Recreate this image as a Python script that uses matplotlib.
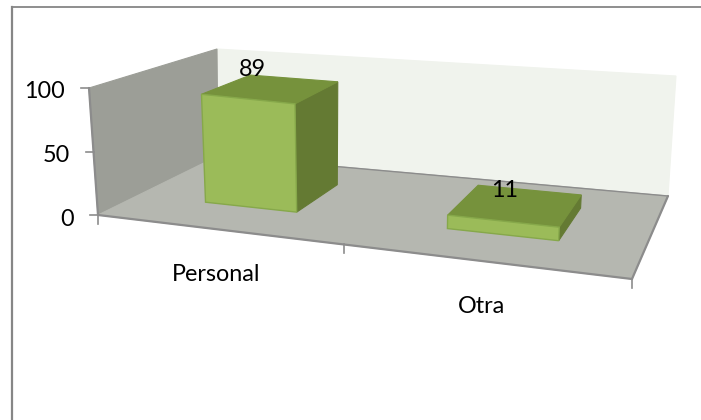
"""3D-look column chart drawn on a flat pixel canvas."""
import numpy as np
import matplotlib
matplotlib.use("Agg")
import matplotlib.pyplot as plt
from matplotlib.patches import Polygon

categories = ["Personal", "Otra"]
values = [89, 11]
y_ticks = [0, 50, 100]
y_max = 100

W, H = 701, 420
FONT = "Lato"
FS = 16.8

# floor corners in pixels: front-left, front-right, back-right, back-left
FLOOR = np.array([[98, 215], [632, 279], [668, 196], [218, 156]], float)
# pixel vector for the full 0-100 height at the same corners
RISE = np.array([[-9, -127], [6, -124], [8, -120], [-1, -107]], float)

BAR_W = 0.2
BAR_SHIFT = 0.0065
BAR_D0, BAR_D1 = 0.30, 0.72
CAT_TICKS = [0, 0.513, 1]
# pixel offset of each value label from the middle of its bar top
LABEL_OFFSETS = [(-19, -19), (-11, -14)]


def floor_h():
    (x0, y0), (x1, y1), (x2, y2), (x3, y3) = FLOOR
    sx, sy = x0 - x1 + x2 - x3, y0 - y1 + y2 - y3
    dx1, dx2, dy1, dy2 = x1 - x2, x3 - x2, y1 - y2, y3 - y2
    det = dx1 * dy2 - dx2 * dy1
    g = (sx * dy2 - dx2 * sy) / det
    h = (dx1 * sy - sx * dy1) / det
    return np.array([[x1 - x0 + g * x1, x3 - x0 + h * x3, x0],
                     [y1 - y0 + g * y1, y3 - y0 + h * y3, y0],
                     [g, h, 1]])


HOM = floor_h()


def proj(u, d, v=0):
    p = HOM @ np.array([u, d, 1.0])
    base = p[:2] / p[2]
    rise = ((1 - u) * (1 - d) * RISE[0] + u * (1 - d) * RISE[1]
            + u * d * RISE[2] + (1 - u) * d * RISE[3])
    return base + rise * v / y_max


def face(ax, pts, color, edge=None, lw=0.8, z=2):
    ax.add_patch(Polygon(pts, closed=True, facecolor=color,
                         edgecolor=edge if edge else color, linewidth=lw, zorder=z))


fig = plt.figure(figsize=(W / 100, H / 100), dpi=100)
ax = fig.add_axes([0, 0, 1, 1])
ax.set_xlim(0, W)
ax.set_ylim(H, 0)
ax.axis("off")

# outer frame, only left and top are inside the crop
ax.plot([12, 12], [H, 6.5], color="#868686", lw=1.6, zorder=0.5)
ax.plot([12, W], [6.5, 6.5], color="#868686", lw=1.3, zorder=0.5)

# walls and floor
face(ax, [proj(0, 1), proj(1, 1), proj(1, 1, y_max), proj(0, 1, y_max)], "#f0f3ed", z=1)
face(ax, [proj(0, 0), proj(0, 1), proj(0, 1, y_max), proj(0, 0, y_max)], "#9c9e97", z=1)
face(ax, [proj(0, 0), proj(1, 0), proj(1, 1), proj(0, 1)], "#b5b7b0", z=1.5)

# axis lines
AXC = "#8c8c8c"
for a, b, lw in [(proj(0, 0), proj(1, 0), 1.6), (proj(1, 0), proj(1, 1), 1.6),
                 (proj(0, 1), proj(1, 1), 1.0), (proj(0, 0), proj(0, 0, y_max), 1.6)]:
    ax.plot([a[0], b[0]], [a[1], b[1]], color=AXC, lw=lw, zorder=1.8, solid_capstyle="round")

for t in y_ticks:
    p = proj(0, 0, t)
    ax.plot([p[0] - 8, p[0]], [p[1], p[1]], color=AXC, lw=1.2, zorder=1.8)
    ax.text(p[0] - 24, p[1] + 4, str(t), ha="right", va="center",
            fontsize=FS, family=FONT, color="black")

for u in CAT_TICKS:
    p = proj(u, 0)
    ax.plot([p[0], p[0]], [p[1], p[1] + 9], color=AXC, lw=1.2, zorder=1.8)

# bars
for i, (name, val) in enumerate(zip(categories, values)):
    uc = (i + 0.5) / len(categories) + BAR_SHIFT
    u0, u1 = uc - BAR_W / 2, uc + BAR_W / 2
    d0, d1 = BAR_D0, BAR_D1
    face(ax, [proj(u1, d0), proj(u1, d1), proj(u1, d1, val), proj(u1, d0, val)], "#647a33", z=3)
    face(ax, [proj(u0, d0, val), proj(u1, d0, val), proj(u1, d1, val), proj(u0, d1, val)], "#76923c", z=3)
    face(ax, [proj(u0, d0), proj(u1, d0), proj(u1, d0, val), proj(u0, d0, val)], "#9bbb59", edge="#86a84a", lw=1, z=4)
    top = proj(uc, (d0 + d1) / 2, val)
    dx, dy = LABEL_OFFSETS[i]
    ax.text(top[0] + dx, top[1] + dy, str(val), ha="center", va="center",
            fontsize=FS, family=FONT, color="black", zorder=5)
    lab = proj((i + 0.5) / len(categories), 0)
    ax.text(lab[0] + 5, lab[1] + 46, name, ha="center", va="center",
            fontsize=FS, family=FONT, color="black")

fig.savefig("out.png", dpi=100)
